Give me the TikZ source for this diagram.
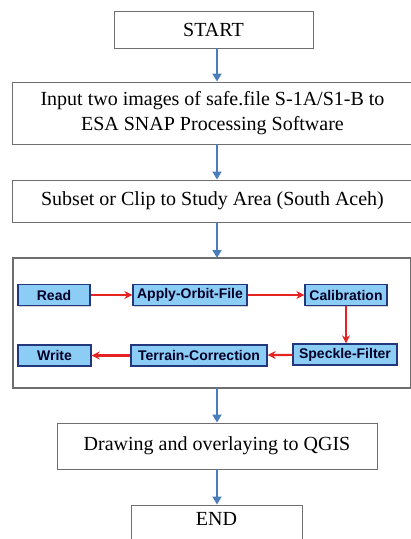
\documentclass[tikz,border=0pt]{standalone}
\usepackage{fontspec}
\setmainfont{Liberation Serif}
\setsansfont{Liberation Sans}
\usepackage{tikz}
\usetikzlibrary{arrows.meta}
\usetikzlibrary{shadows}
\usetikzlibrary{calc}
\definecolor{flowblue}{RGB}{74,126,187}
\definecolor{boxgray}{RGB}{110,110,110}
\definecolor{stepfill}{RGB}{140,205,245}
\definecolor{stepdraw}{RGB}{35,55,125}
\definecolor{stepred}{RGB}{230,35,35}
\tikzstyle{mainbox}=[draw=boxgray, line width=0.9pt, fill=white, align=center, inner sep=0pt, font=\fontsize{20}{25}\selectfont]
\tikzstyle{snapbox}=[draw=stepdraw, line width=1.3pt, fill=stepfill, inner sep=0pt, minimum height=21pt, font=\sffamily\bfseries\fontsize{14}{15}\selectfont, text=black!85!blue, drop shadow={shadow xshift=1pt, shadow yshift=-1pt, opacity=0.35}]
\tikzstyle{flow}=[flowblue, line width=1.5pt, -{Triangle[width=9pt,length=8pt]}]
\tikzstyle{snapflow}=[stepred, line width=2.2pt, -{Stealth[width=8pt,length=8pt]}]

\begin{document}
\begin{tikzpicture}[x=1pt,y=-1pt]
\useasboundingbox (0,0) rectangle (411,539);
\coordinate (axis) at (217,0);

\node[mainbox, minimum width=199pt, minimum height=37pt] (start) at (213.5,29.5) {START};
\node[mainbox, minimum width=401pt, minimum height=62pt] (input) at (212.5,113) {Input two images of safe.file S-1A/S1-B to\\ESA SNAP Processing Software};
\node[mainbox, minimum width=401pt, minimum height=42pt] (subset) at (212.5,201) {Subset or Clip to Study Area (South Aceh)};
\draw[boxgray, line width=1.2pt] (13,258) coordinate (frametop) rectangle (411,388) coordinate (framebot);
\node[mainbox, minimum width=320pt, minimum height=46pt] (overlay) at (217,446) {Drawing and overlaying to QGIS};
\node[mainbox, minimum width=171pt, minimum height=40pt, text depth=12pt] (finish) at (216.5,525) {END};

% SNAP graph
\foreach \name/\x/\y/\w/\txt in {read/54/295/72/Read, orbit/190/295/114/Apply-Orbit-File, calib/346/295/82/Calibration, speckle/345/354.5/104/Speckle-Filter, terrain/199/355.5/136/Terrain-Correction, write/54.5/355.5/73/Write} {
	\node[snapbox, minimum width=\w pt] (\name) at (\x,\y) {\txt};
}
\draw[snapflow] (read) -- (orbit);
\draw[snapflow] (orbit) -- (calib);
\draw[snapflow] (calib) -- (calib |- speckle.north);
\draw[snapflow] (speckle) -- (terrain);
\draw[snapflow] (terrain) -- (write);

\draw[flow] (axis |- start.south) -- (axis |- input.north);
\draw[flow] (axis |- input.south) -- (axis |- subset.north);
\draw[flow] (axis |- subset.south) -- (axis |- frametop);
\draw[flow] (axis |- framebot) -- (axis |- overlay.north);
\draw[flow] (axis |- overlay.south) -- (axis |- finish.north);
\end{tikzpicture}
\end{document}
